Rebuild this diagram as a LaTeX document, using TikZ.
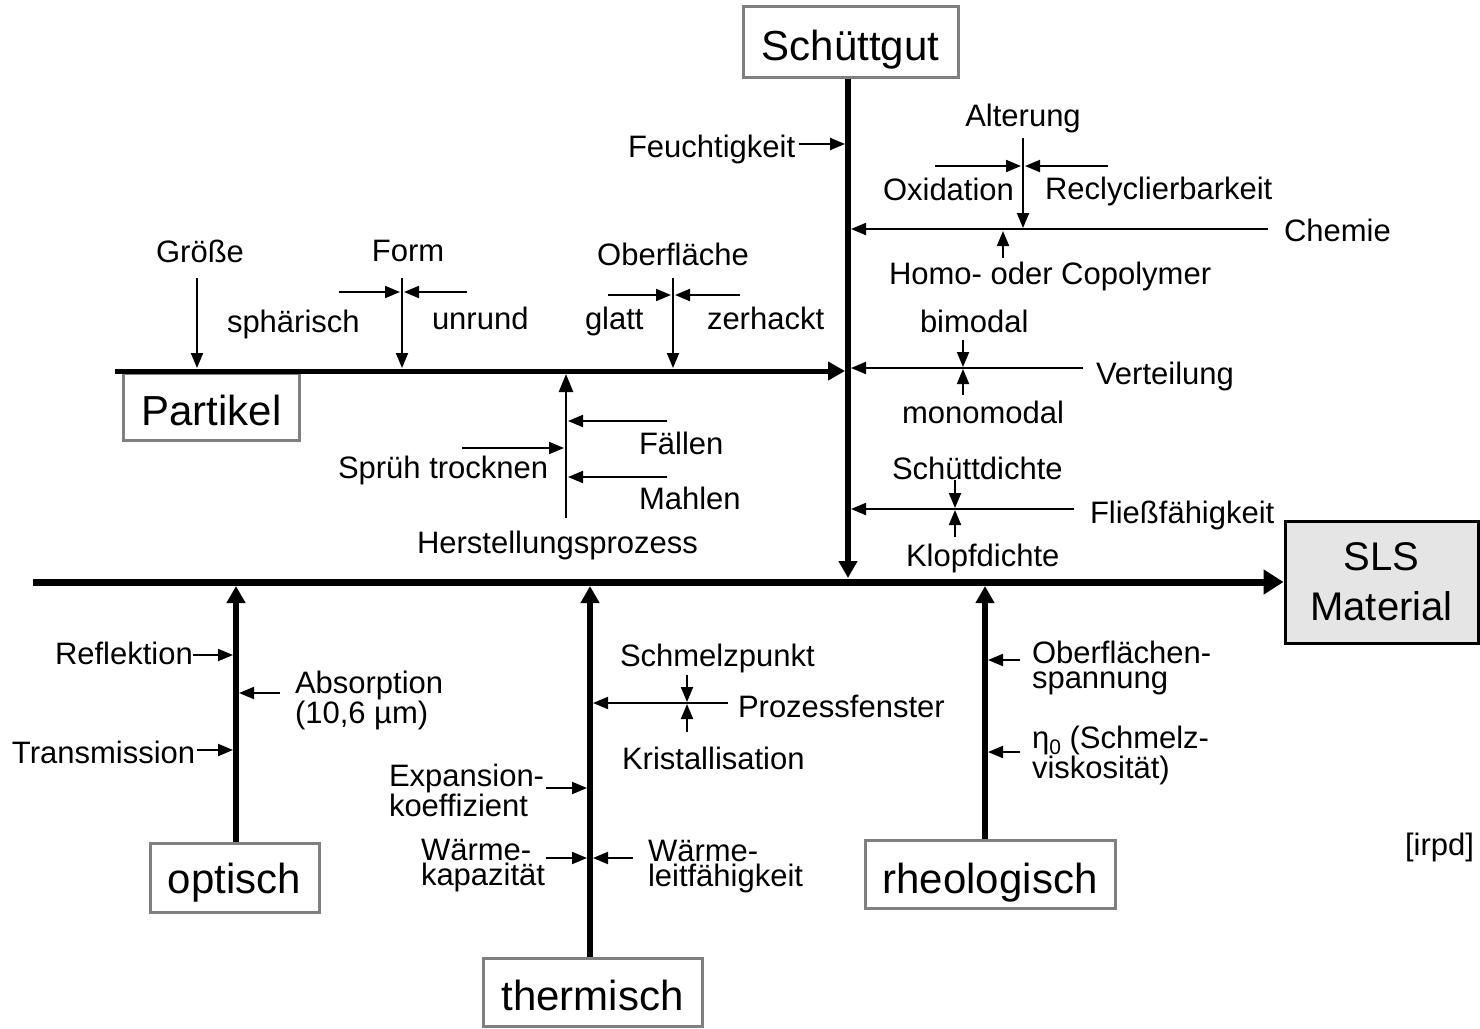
\documentclass[tikz,border=0pt]{standalone}
\usepackage{fontspec}
\setmainfont{Liberation Sans}
\usetikzlibrary{arrows.meta}
\begin{document}
\begin{tikzpicture}[x=1pt,y=-1pt,
  lbl/.style={font=\fontsize{31}{33}\selectfont, inner sep=0pt, outer sep=0pt},
  lbltwo/.style={font=\fontsize{31}{24.5}\selectfont, inner sep=0pt, outer sep=0pt, align=left},
  catbox/.style={draw=gray, line width=3pt, fill=white, inner sep=0pt, font=\fontsize{42}{44}\selectfont, text depth=0pt},
  resbox/.style={draw=black, line width=3pt, fill=black!10, inner sep=0pt, font=\fontsize{40}{50}\selectfont, align=center},
  arr/.style={line width=2pt, -{Triangle[length=15pt,width=12pt]}},
  spine/.style={line width=6pt, -{Triangle[length=17pt,width=18pt]}},
  mainspine/.style={line width=7pt, -{Triangle[length=20pt,width=24pt]}}
]
\useasboundingbox (0,0) rectangle (1480,1028);

% ---------- boxes ----------
\node[catbox, minimum width=215pt, minimum height=71pt, text height=37pt] (schutt) at (850.5,41.5) {Schüttgut};
\node[catbox, minimum width=176pt, minimum height=67pt, text height=37pt] (partikel) at (211.5,406.5) {Partikel};
\node[catbox, minimum width=169pt, minimum height=69pt, text height=31pt] (optisch) at (234.5,877.5) {optisch};
\node[catbox, minimum width=219pt, minimum height=68pt, text height=36pt] (thermisch) at (592.5,992) {thermisch};
\node[catbox, minimum width=250pt, minimum height=68pt, text height=38pt] (rheo) at (990,874) {rheologisch};
\node[resbox, minimum width=193pt, minimum height=122pt] (sls) at (1381.5,582) {SLS\\Material};

% ---------- spine coordinates ----------
\coordinate (mainL) at (33,582);
\coordinate (sEnd) at (848,578);
\coordinate (pL) at (115,371);
\coordinate (pEnd) at (845,371);
\coordinate (oEnd) at (236,586);
\coordinate (tEnd) at (590,586);
\coordinate (rEnd) at (985,586);

% ---------- spines ----------
\draw[mainspine] (mainL) -- (sls.west);
\draw[spine] (schutt.south -| sEnd) -- (sEnd);
\draw[spine, line width=5pt] (pL) -- (pEnd);
\draw[spine] (optisch.north -| oEnd) -- (oEnd);
\draw[spine] (thermisch.north -| tEnd) -- (tEnd);
\draw[spine] (rheo.north -| rEnd) -- (rEnd);

% ---------- labels: Schuettgut ----------
\node[lbl, anchor=base] (alterung) at (1023,126) {Alterung};
\node[lbl, anchor=base west] (feucht) at (628,157) {Feuchtigkeit};
\node[lbl, anchor=base west] (oxid) at (883,200) {Oxidation};
\node[lbl, anchor=base west] (recyc) at (1045,199) {Reclyclierbarkeit};
\node[lbl, anchor=base west] (chemie) at (1284,241) {Chemie};
\node[lbl, anchor=base west] (homo) at (889,284) {Homo- oder Copolymer};
\node[lbl, anchor=base west] (bimodal) at (920,332) {bimodal};
\node[lbl, anchor=base west] (verteil) at (1096,384) {Verteilung};
\node[lbl, anchor=base west] (monomodal) at (902,423) {monomodal};
\node[lbl, anchor=base west] (schuettd) at (892,479) {Schüttdichte};
\node[lbl, anchor=base west] (fliess) at (1090,523) {Fließfähigkeit};
\node[lbl, anchor=base west] (klopf) at (906,566) {Klopfdichte};

% ---------- labels: Partikel ----------
\node[lbl, anchor=base] (groesse) at (200,262) {Größe};
\node[lbl, anchor=base] (form) at (408,261) {Form};
\node[lbl, anchor=base west] (sphaer) at (227,332) {sphärisch};
\node[lbl, anchor=base west] (unrund) at (432,329) {unrund};
\node[lbl, anchor=base] (oberfl) at (673,265) {Oberfläche};
\node[lbl, anchor=base west] (glatt) at (585,329) {glatt};
\node[lbl, anchor=base west] (zerhackt) at (707,329) {zerhackt};
\node[lbl, anchor=base west] (faellen) at (639,454) {Fällen};
\node[lbl, anchor=base west] (mahlen) at (639,509) {Mahlen};
\node[lbl, anchor=base west] (spruehtr) at (338,478) {Sprüh trocknen};
\node[lbl, anchor=base west] (herst) at (417,553) {Herstellungsprozess};

% ---------- labels: optisch ----------
\node[lbl, anchor=base west] (reflekt) at (55,664) {Reflektion};
\node[lbltwo, anchor=base west, font=\fontsize{31}{28}\selectfont] (absorp) at (295,723) {Absorption\\(10,6 µm)};
\node[lbl, anchor=base west] (transm) at (12,763) {Transmission};

% ---------- labels: thermisch ----------
\node[lbl, anchor=base west] (schmelzp) at (620,666) {Schmelzpunkt};
\node[lbl, anchor=base west] (prozessf) at (738,717) {Prozessfenster};
\node[lbl, anchor=base west] (kristall) at (622,769) {Kristallisation};
\node[lbltwo, anchor=base west, font=\fontsize{31}{23.5}\selectfont] (expans) at (389,816) {Expansion-\\koeffizient};
\node[lbltwo, anchor=base west] (waermekap) at (421,885) {Wärme-\\kapazität};
\node[lbltwo, anchor=base west] (waermeleit) at (648,886) {Wärme-\\leitfähigkeit};

% ---------- labels: rheologisch ----------
\node[lbltwo, anchor=base west] (oberflsp) at (1032,688) {Oberflächen-\\spannung};
\node[lbltwo, anchor=base west] (eta) at (1032,778) {η\raisebox{-6pt}{\fontsize{21}{21}\selectfont 0} (Schmelz-\\viskosität)};

\node[lbl, anchor=base west] (irpd) at (1405,855) {[irpd]};

% ---------- thin arrow coordinates ----------
\coordinate (feA) at (799,144);  \coordinate (feB) at (845,144);
\coordinate (chA) at (1268,229); \coordinate (chB) at (851,229);
\coordinate (alA) at (1023,138); \coordinate (alB) at (1023,228);
\coordinate (oxA) at (935,166);  \coordinate (oxB) at (1021,166);
\coordinate (reA) at (1108,166); \coordinate (reB) at (1025,166);
\coordinate (hoA) at (1003,258); \coordinate (hoB) at (1003,231);

\coordinate (grA) at (197,278);  \coordinate (grB) at (197,368);
\coordinate (foA) at (402,278);  \coordinate (foB) at (402,368);
\coordinate (spA) at (339,292);  \coordinate (spB) at (400,292);
\coordinate (unA) at (467,292);  \coordinate (unB) at (404,292);
\coordinate (obA) at (673,278);  \coordinate (obB) at (673,368);
\coordinate (glA) at (608,295);  \coordinate (glB) at (671,295);
\coordinate (zeA) at (740,295);  \coordinate (zeB) at (675,295);
\coordinate (heA) at (566,518);  \coordinate (heB) at (566,374);
\coordinate (faA) at (667,421);  \coordinate (faB) at (568,421);
\coordinate (maA) at (667,477);  \coordinate (maB) at (568,477);
\coordinate (stA) at (462,448);  \coordinate (stB) at (564,448);

\coordinate (veA) at (1083,368); \coordinate (veB) at (851,368);
\coordinate (biA) at (963,340);  \coordinate (biB) at (963,367);
\coordinate (moA) at (963,395);  \coordinate (moB) at (963,369);
\coordinate (flA) at (1074,509); \coordinate (flB) at (851,509);
\coordinate (sdA) at (955,480);  \coordinate (sdB) at (955,508);
\coordinate (kdA) at (955,537);  \coordinate (kdB) at (955,510);

\coordinate (rfA) at (193,655);  \coordinate (rfB) at (233,655);
\coordinate (abA) at (280,693);  \coordinate (abB) at (239,693);
\coordinate (trA) at (197,750);  \coordinate (trB) at (233,750);

\coordinate (smA) at (687,675);  \coordinate (smB) at (687,702);
\coordinate (pfA) at (728,703);  \coordinate (pfB) at (593,703);
\coordinate (krA) at (687,732);  \coordinate (krB) at (687,704);
\coordinate (exA) at (546,788);  \coordinate (exB) at (587,788);
\coordinate (wkA) at (546,858);  \coordinate (wkB) at (587,858);
\coordinate (wlA) at (633,858);  \coordinate (wlB) at (593,858);

\coordinate (osA) at (1020,660); \coordinate (osB) at (988,660);
\coordinate (etA) at (1020,752); \coordinate (etB) at (988,752);

% ---------- thin arrows ----------
\foreach \p in {fe,ch,al,ox,re,ho,gr,fo,sp,un,ob,gl,ze,fa,ma,st,ve,bi,mo,fl,sd,kd,rf,ab,tr,sm,pf,kr,ex,wk,wl,os,et}
  \draw[arr] (\p A) -- (\p B);
\draw[line width=2.5pt, -{Triangle[length=18pt,width=14pt]}] (heA) -- (heB);
\end{tikzpicture}
\end{document}
